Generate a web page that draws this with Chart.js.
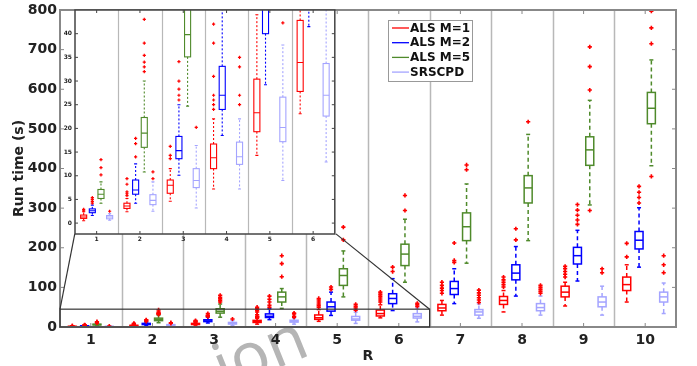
<!DOCTYPE html>
<html>
<head>
<meta charset="utf-8">
<script src="https://cdn.jsdelivr.net/npm/chart.js@4.4.0/dist/chart.umd.min.js"></script>
<style>
  html, body { margin: 0; padding: 0; background: #fff; }
  #wrap { position: relative; width: 697px; height: 366px; overflow: hidden; }
  #main, #inset { position: absolute; left: 0; top: 0; }
</style>
</head>
<body>
<div id="wrap">
  <canvas id="main" width="697" height="366"></canvas>
  <canvas id="inset"></canvas>
</div>
<script>
// ── data ──────────────────────────────────────────────────────────────────────
const R_VALUES     = [1, 2, 3, 4, 5, 6, 7, 8, 9, 10];
const SERIES_NAMES = ['ALS M=1', 'ALS M=2', 'ALS M=5', 'SRSCPD'];
const Y_TICKS      = [0, 100, 200, 300, 400, 500, 600, 700, 800];
const INSET_TICKS  = [0, 5, 10, 15, 20, 25, 30, 35, 40];
const WATERMARK    = 'ion';

// [lower whisker, q1, median, q3, upper whisker] per R
const ALS1_BOX = [[0.5, 1.0, 1.3, 1.7, 2.4], [2.4, 3.1, 3.6, 4.2, 5.2], [4.6, 6.3, 8.0, 9.1, 11.5], [7.2, 11.5, 13.8, 16.7, 22],
                  [14.3, 19.3, 23.3, 30.4, 44], [23.1, 27.8, 33.9, 42.8, 56], [30, 41, 48, 57, 67], [38, 57, 67, 77, 92],
                  [53, 76, 88, 103, 113], [63, 92, 107, 126, 157]];
const ALS2_BOX = [[1.6, 2.2, 2.6, 3.0, 3.8], [4.2, 6.1, 7.0, 9.1, 12.5], [10.1, 13.6, 15.3, 18.3, 25], [18.5, 24, 27, 33.1, 46],
                  [29.2, 40, 51, 63, 88], [41.5, 59, 72, 84, 122], [59, 82, 97, 115, 147], [78, 119, 136, 157, 203],
                  [116, 159, 180, 201, 244], [151, 197, 219, 241, 301]];
const ALS5_BOX = [[4.2, 5.2, 6.1, 7.1, 8.7], [10.8, 16.0, 19.0, 22.3, 30], [24.7, 35.1, 39.8, 46, 58], [47, 63, 76, 88, 97],
                  [76, 105, 130, 147, 192], [113, 155, 184, 209, 272], [161, 218, 253, 288, 361], [218, 313, 351, 382, 486],
                  [308, 408, 447, 480, 572], [407, 513, 552, 592, 674]];
const SRS_BOX  = [[0.6, 0.9, 1.3, 1.6, 2.0], [2.5, 3.9, 4.8, 6.0, 8.7], [3.2, 7.5, 9.0, 11.5, 16.4], [7.2, 12.4, 14.0, 17.1, 22],
                  [9.0, 17.2, 20.2, 26.6, 37.6], [12.9, 22.6, 27.0, 33.7, 48], [22, 30, 38, 44, 58], [30, 41, 49, 59, 78],
                  [30, 51, 63, 76, 103], [34, 63, 76, 88, 111]];

// outliers per R
const ALS1_OUT = [[2.6, 2.9], [5.8, 6.2, 6.6, 8.2, 9.4], [13.6, 14.3, 16.2], [24, 25, 26, 27, 31, 38, 42, 46, 50],
                  [50, 54, 58, 63, 68, 72], [63, 68, 73, 78, 83, 88], [85, 92, 98, 105, 113], [101, 107, 113, 119, 126],
                  [126, 133, 140, 147, 153], [177, 211]];
const ALS2_OUT = [[4.2, 4.6, 5.0, 5.4], [14.0, 16.8, 17.9], [26, 27, 28.3, 30, 34.1], [50, 55, 63, 70, 78],
                  [95, 101], [140, 151], [163, 168, 212], [220, 248], [259, 270, 282, 295, 309], [313, 327, 340, 355]];
const ALS5_OUT = [[10.2, 11.7, 13.4], [32, 33, 34, 35.4, 38, 43], [63, 67, 71, 75, 80], [127, 160, 180],
                  [220, 252], [294, 332], [397, 409], [518], [294, 598, 657, 707], [380, 715, 755, 797]];
const SRS_OUT  = [[2.5], [9.4, 10.8], [20.2], [25, 27, 33, 35], [42.3, 48, 52, 57], [52, 56, 60],
                  [62, 68, 74, 80, 86, 93], [85, 90, 95, 100, 105], [137, 147], [137, 157, 180]];

// region of the main axes magnified in the inset, and where the inset sits (main axes units)
const ZOOM_X = [0.5, 6.5];
const ZOOM_Y = [0, 45];
const INSET_Y_MIN = -2.3;
const INSET_AT_X = [0.74, 4.98];
const INSET_AT_Y = [235, 800];

// ── style ─────────────────────────────────────────────────────────────────────
const COLORS  = ['#ff0000', '#0000ff', '#4f8a2b', '#a4a4ff'];
const OFFSETS = [-0.3, -0.1, 0.1, 0.3];
const BOXES   = [ALS1_BOX, ALS2_BOX, ALS5_BOX, SRS_BOX];
const OUTS    = [ALS1_OUT, ALS2_OUT, ALS5_OUT, SRS_OUT];

Chart.defaults.font.family = "'DejaVu Sans', sans-serif";
Chart.defaults.color = '#222';

function seg(ctx, x1, y1, x2, y2) { ctx.beginPath(); ctx.moveTo(x1, y1); ctx.lineTo(x2, y2); ctx.stroke(); }

function outlierSets(radius, bw) {
  return OUTS.map((series, s) => ({
    type: 'scatter',
    data: series.flatMap((arr, i) => arr.map(v => ({ x: R_VALUES[i] + OFFSETS[s], y: v }))),
    pointStyle: 'cross', pointRadius: radius, pointBorderWidth: bw,
    borderColor: '#ff0000', backgroundColor: '#ff0000'
  }));
}

// boxes, whiskers and category separators, through the chart's own scales
function boxPlugin(cfg) {
  return {
    id: 'boxes',
    beforeDatasetsDraw(chart) {
      const { ctx, chartArea: a, scales: { x, y } } = chart;
      ctx.save();
      ctx.beginPath(); ctx.rect(a.left, a.top, a.right - a.left, a.bottom - a.top); ctx.clip();
      ctx.strokeStyle = '#b8b8b8'; ctx.lineWidth = cfg.gridW;
      R_VALUES.slice(1).forEach(v => { const px = Math.round(x.getPixelForValue(v - 0.5)) + 0.5; seg(ctx, px, a.top, px, a.bottom); });
      BOXES.forEach((series, s) => {
        ctx.strokeStyle = COLORS[s];
        ctx.lineWidth = cfg.lw;
        series.forEach((b, i) => {
          const c = R_VALUES[i] + OFFSETS[s];
          const xc = x.getPixelForValue(c);
          const hw = (x.getPixelForValue(c + cfg.boxW / 2) - x.getPixelForValue(c - cfg.boxW / 2)) / 2;
          const [lo, q1, med, q3, hi] = b.map(v => y.getPixelForValue(v));
          ctx.setLineDash(cfg.dash);
          seg(ctx, xc, q3, xc, hi); seg(ctx, xc, q1, xc, lo);
          ctx.setLineDash([]);
          seg(ctx, xc - hw / 2, hi, xc + hw / 2, hi); seg(ctx, xc - hw / 2, lo, xc + hw / 2, lo);
          ctx.strokeRect(xc - hw, q3, 2 * hw, q1 - q3);
          seg(ctx, xc - hw, med, xc + hw, med);
        });
      });
      ctx.restore();
    }
  };
}

function frame(ctx, a, x, y, yTicks, color, lw, tl) {
  ctx.save();
  ctx.strokeStyle = color; ctx.lineWidth = lw;
  ctx.strokeRect(a.left, a.top, a.right - a.left, a.bottom - a.top);
  ctx.lineWidth = 1;
  R_VALUES.forEach(v => {
    const px = x.getPixelForValue(v);
    if (px < a.left || px > a.right) return;
    seg(ctx, px, a.top, px, a.top + tl); seg(ctx, px, a.bottom, px, a.bottom - tl);
  });
  yTicks.forEach(v => {
    const py = y.getPixelForValue(v);
    seg(ctx, a.left, py, a.left + tl, py); seg(ctx, a.right, py, a.right - tl, py);
  });
  ctx.restore();
}

// ── main axes ────────────────────────────────────────────────────────────────
const mainChart = new Chart(document.getElementById('main'), {
  type: 'scatter',
  data: { datasets: outlierSets(2.1, 1.6) },
  options: {
    responsive: false, animation: false, devicePixelRatio: 1,
    layout: { padding: { left: 0, top: 7, right: 21, bottom: 0 } },
    plugins: { legend: { display: false }, tooltip: { enabled: false } },
    scales: {
      x: {
        type: 'linear', min: 0.5, max: 10.5,
        grid: { display: false, drawTicks: false }, border: { display: false },
        afterBuildTicks: s => { s.ticks = R_VALUES.map(v => ({ value: v })); },
        afterFit: s => { s.height = 39; },
        ticks: { autoSkip: false, maxRotation: 0, padding: 5, font: { size: 14, weight: 'bold' } },
        title: { display: true, text: 'R', font: { size: 14, weight: 'bold' }, padding: { top: 0, bottom: 1 } }
      },
      y: {
        type: 'linear', min: 0, max: 800,
        grid: { display: false, drawTicks: false }, border: { display: false },
        afterBuildTicks: s => { s.ticks = Y_TICKS.map(v => ({ value: v })); },
        afterFit: s => { s.width = 60; },
        ticks: { padding: 3, font: { size: 14, weight: 'bold', lineHeight: 1 } },
        title: { display: true, text: 'Run time (s)', font: { size: 14, weight: 'bold' }, padding: { top: 11, bottom: 0 } }
      }
    }
  },
  plugins: [boxPlugin({ boxW: 0.13, lw: 1.5, dash: [4, 3], gridW: 1.5 }), {
    id: 'decor',
    beforeDraw(chart) {
      // watermark fragment, behind everything else
      const { ctx } = chart;
      ctx.save();
      ctx.translate(224, 390);
      ctx.rotate(-22 * Math.PI / 180);
      ctx.font = "64px 'Noto Sans'"; ctx.textBaseline = 'alphabetic';
      ctx.fillStyle = 'rgba(150,150,150,0.7)';
      ctx.fillText(WATERMARK, 0, 0);
      ctx.restore();
    },
    afterDraw(chart) {
      const { ctx, chartArea: a, scales: { x, y } } = chart;
      frame(ctx, a, x, y, Y_TICKS, '#888', 2, 4);
      ctx.save();
      // zoom rectangle and connectors
      ctx.strokeStyle = '#333'; ctx.lineWidth = 1.2;
      const zx0 = x.getPixelForValue(ZOOM_X[0]), zx1 = x.getPixelForValue(ZOOM_X[1]);
      const zy0 = y.getPixelForValue(ZOOM_Y[0]), zy1 = y.getPixelForValue(ZOOM_Y[1]);
      ctx.strokeRect(zx0, zy1, zx1 - zx0, zy0 - zy1);
      const iy = y.getPixelForValue(INSET_AT_Y[0]);
      seg(ctx, zx0, zy1, x.getPixelForValue(INSET_AT_X[0]), iy);
      seg(ctx, zx1, zy1, x.getPixelForValue(INSET_AT_X[1]), iy);
      // legend
      const lx = a.left + 328, ly = a.top + 10;
      ctx.fillStyle = '#fff'; ctx.fillRect(lx, ly, 84, 61);
      ctx.strokeStyle = '#999'; ctx.lineWidth = 1; ctx.strokeRect(lx + 0.5, ly + 0.5, 84, 61);
      ctx.font = "bold 12px 'DejaVu Sans'"; ctx.textBaseline = 'middle'; ctx.fillStyle = '#111';
      SERIES_NAMES.forEach((name, s) => {
        const yy = ly + 8 + s * 14.7;
        ctx.strokeStyle = COLORS[s]; ctx.lineWidth = 1.3;
        seg(ctx, lx + 4, yy, lx + 21, yy);
        ctx.fillText(name, lx + 22, yy + 0.5);
      });
      ctx.restore();
    }
  }]
});

// ── inset axes, placed from the main axes' scales ────────────────────────────
const mx = mainChart.scales.x, my = mainChart.scales.y;
const iL = Math.round(mx.getPixelForValue(INSET_AT_X[0])), iR = Math.round(mx.getPixelForValue(INSET_AT_X[1]));
const iT = Math.round(my.getPixelForValue(INSET_AT_Y[1])), iB = Math.round(my.getPixelForValue(INSET_AT_Y[0]));
const padL = 16, padR = 4, padB = 12;
const insetCanvas = document.getElementById('inset');
insetCanvas.width = iR - iL + padL + padR;
insetCanvas.height = iB + padB;
insetCanvas.style.left = (iL - padL) + 'px';

new Chart(insetCanvas, {
  type: 'scatter',
  data: { datasets: outlierSets(1.6, 1.2) },
  options: {
    responsive: false, animation: false, devicePixelRatio: 1,
    layout: { padding: { left: 0, top: iT, right: padR, bottom: 0 } },
    plugins: { legend: { display: false }, tooltip: { enabled: false } },
    scales: {
      x: {
        type: 'linear', min: ZOOM_X[0], max: ZOOM_X[1],
        grid: { display: false, drawTicks: false }, border: { display: false },
        afterBuildTicks: s => { s.ticks = R_VALUES.filter(v => v <= ZOOM_X[1]).map(v => ({ value: v })); },
        afterFit: s => { s.height = padB; },
        ticks: { autoSkip: false, maxRotation: 0, padding: 2, font: { size: 6, weight: 'bold', lineHeight: 1 } }
      },
      y: {
        type: 'linear', min: INSET_Y_MIN, max: ZOOM_Y[1],
        grid: { display: false, drawTicks: false }, border: { display: false },
        afterBuildTicks: s => { s.ticks = INSET_TICKS.map(v => ({ value: v })); },
        afterFit: s => { s.width = padL; },
        ticks: { padding: 3, font: { size: 6, weight: 'bold', lineHeight: 1 } }
      }
    }
  },
  plugins: [{
    id: 'bg',
    beforeDraw(chart) {
      const { ctx, chartArea: a } = chart;
      ctx.save(); ctx.fillStyle = '#fff'; ctx.fillRect(a.left, a.top, a.right - a.left, a.bottom - a.top); ctx.restore();
    },
    afterDraw(chart) {
      const { ctx, chartArea: a, scales: { x, y } } = chart;
      frame(ctx, a, x, y, INSET_TICKS, '#444', 1.5, 3);
    }
  }, boxPlugin({ boxW: 0.14, lw: 1.1, dash: [2, 2], gridW: 1.2 })]
});
</script>
</body>
</html>
